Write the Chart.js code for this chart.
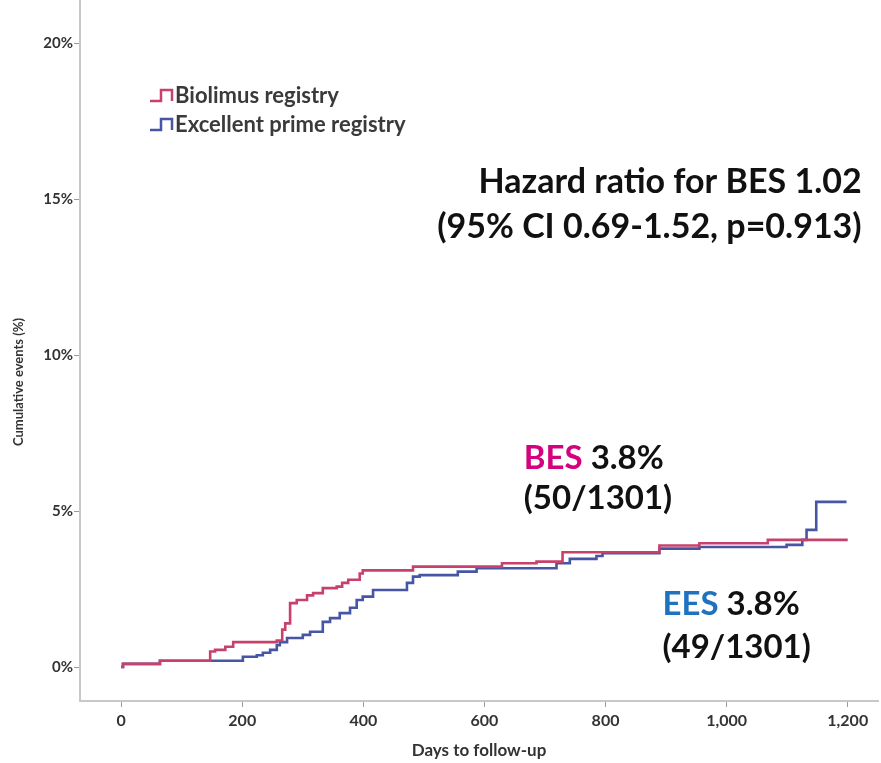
<!DOCTYPE html>
<html>
<head>
<meta charset="utf-8">
<script src="https://cdn.jsdelivr.net/npm/chart.js@4.4.1/dist/chart.umd.min.js"></script>
<style>
  html, body { margin: 0; padding: 0; background: #fff; }
  #wrap { width: 881px; height: 763px; }
</style>
</head>
<body>
<div id="wrap"><canvas id="kmChart"></canvas></div>
<script>
// Kaplan-Meier style cumulative events
const bioDays = [0, 3, 64, 147, 155, 172, 185, 257, 266, 271, 279, 290, 307, 317, 333, 356, 365, 375, 394, 399, 482, 629, 686, 729, 889, 955, 1068, 1200];
const bioPct  = [0, 0.1, 0.2, 0.5, 0.55, 0.65, 0.8, 0.85, 1.2, 1.4, 2.05, 2.15, 2.3, 2.37, 2.53, 2.58, 2.7, 2.8, 3.0, 3.1, 3.22, 3.33, 3.38, 3.68, 3.9, 3.97, 4.08, 4.08];

const eesDays = [0, 3, 64, 201, 224, 234, 246, 257, 262, 274, 300, 312, 333, 345, 361, 378, 389, 399, 416, 472, 482, 493, 556, 587, 719, 741, 785, 795, 889, 955, 1099, 1125, 1132, 1148, 1198];
const eesPct  = [0, 0.1, 0.2, 0.33, 0.38, 0.46, 0.55, 0.7, 0.8, 0.93, 1.03, 1.13, 1.45, 1.57, 1.73, 1.9, 2.15, 2.26, 2.47, 2.7, 2.9, 2.95, 3.06, 3.17, 3.33, 3.47, 3.56, 3.65, 3.8, 3.85, 3.92, 4.08, 4.4, 5.3, 5.3];

const xTicks = [0, 200, 400, 600, 800, 1000, 1200];
const yTicks = [0, 5, 10, 15, 20];

const seriesNames = ['Biolimus registry', 'Excellent prime registry'];
const seriesColors = ['#c8416d', '#4755a5'];

function toPoints(xs, ys) {
    return xs.map((d, i) => ({ x: d, y: ys[i] }));
}

const textFont = "'Lato', 'Noto Sans', sans-serif";

// free text on the plot, anchored in data units (x = days, y = %)
const notes = [
    { x: 1223, y: 15.2, size: 34, align: 'right', parts: [['Hazard ratio for BES 1.02', '#111']] },
    { x: 1223, y: 13.76, size: 34, align: 'right', parts: [['(95% CI 0.69-1.52, p=0.913)', '#111']] },
    { x: 665, y: 6.36, size: 33, align: 'left', parts: [['BES ', '#d4007f'], ['3.8%', '#111']] },
    { x: 665, y: 5.07, size: 33, align: 'left', parts: [['(50/1301)', '#111']] },
    { x: 894, y: 1.67, size: 33, align: 'left', parts: [['EES ', '#1f72c0'], ['3.8%', '#111']] },
    { x: 894, y: 0.29, size: 33, align: 'left', parts: [['(49/1301)', '#111']] },
];

const extrasPlugin = {
    id: 'extras',
    afterDraw(chart) {
        const ctx = chart.ctx;
        const xs = chart.scales.x;
        const ys = chart.scales.y;
        ctx.save();

        // annotations
        ctx.textBaseline = 'alphabetic';
        ctx.textAlign = 'left';
        notes.forEach(n => {
            ctx.font = 'bold ' + n.size + 'px ' + textFont;
            const px = xs.getPixelForValue(n.x);
            const py = ys.getPixelForValue(n.y);
            const total = n.parts.reduce((w, p) => w + ctx.measureText(p[0]).width, 0);
            let cx = n.align === 'right' ? px - total : px;
            n.parts.forEach(p => {
                ctx.fillStyle = p[1];
                ctx.fillText(p[0], cx, py);
                cx += ctx.measureText(p[0]).width;
            });
        });

        // legend with little step icons
        const lx = chart.chartArea.left + 70;
        let ly = 103;
        ctx.font = 'bold 22px ' + textFont;
        seriesNames.forEach((name, i) => {
            ctx.strokeStyle = seriesColors[i];
            ctx.lineWidth = 2.5;
            ctx.beginPath();
            ctx.moveTo(lx, ly - 2);
            ctx.lineTo(lx + 11, ly - 2);
            ctx.lineTo(lx + 11, ly - 13);
            ctx.lineTo(lx + 22, ly - 13);
            ctx.lineTo(lx + 22, ly - 2);
            ctx.stroke();
            ctx.fillStyle = '#3a3a3a';
            ctx.fillText(name, lx + 25, ly);
            ly += 29;
        });

        // y-axis title
        ctx.translate(19, 382);
        ctx.rotate(-Math.PI / 2);
        ctx.textAlign = 'center';
        ctx.textBaseline = 'middle';
        ctx.font = 'bold 13px ' + textFont;
        ctx.fillStyle = '#333';
        ctx.fillText('Cumulative events (%)', 0, 0);
        ctx.restore();
    }
};

new Chart(document.getElementById('kmChart'), {
    type: 'line',
    data: {
        datasets: [
            {
                label: seriesNames[0],
                data: toPoints(bioDays, bioPct),
                borderColor: seriesColors[0],
                borderWidth: 2.6,
                stepped: 'before',
                pointRadius: 0,
                fill: false,
            },
            {
                label: seriesNames[1],
                data: toPoints(eesDays, eesPct),
                borderColor: seriesColors[1],
                borderWidth: 2.6,
                stepped: 'before',
                pointRadius: 0,
                fill: false,
            },
        ],
    },
    options: {
        responsive: true,
        maintainAspectRatio: false,
        animation: false,
        layout: { padding: { left: 0, right: 3, top: 0, bottom: 0 } },
        plugins: {
            legend: { display: false },
            tooltip: { enabled: false },
        },
        scales: {
            x: {
                type: 'linear',
                min: -68,
                max: 1250,
                afterBuildTicks(scale) {
                    scale.ticks = xTicks.map(v => ({ value: v }));
                },
                afterFit(scale) {
                    scale.height = 62;
                    scale.paddingLeft = 0;
                    scale.paddingRight = 0;
                },
                border: { color: '#c8c8c8', width: 2 },
                grid: { drawOnChartArea: false, drawTicks: true, tickLength: 6, color: '#9a9a9a' },
                ticks: {
                    color: '#333',
                    padding: 4,
                    font: { size: 16, weight: 'bold', family: textFont },
                    callback: v => v.toLocaleString('en-US'),
                },
                title: {
                    display: true,
                    text: 'Days to follow-up',
                    color: '#333',
                    padding: { top: 4, bottom: 2 },
                    font: { size: 17, weight: 'bold', family: textFont },
                },
            },
            y: {
                min: -1.09,
                max: 21.4,
                afterBuildTicks(scale) {
                    scale.ticks = yTicks.map(v => ({ value: v }));
                },
                afterFit(scale) {
                    scale.width = 80;
                    scale.paddingTop = 0;
                    scale.paddingBottom = 0;
                },
                border: { color: '#c8c8c8', width: 2 },
                grid: { drawOnChartArea: false, drawTicks: true, tickLength: 6, color: '#9a9a9a' },
                ticks: {
                    color: '#333',
                    padding: 1,
                    font: { size: 15, weight: 'bold', family: textFont },
                    callback: v => v + '%',
                },
            },
        },
    },
    plugins: [extrasPlugin],
});
</script>
</body>
</html>
